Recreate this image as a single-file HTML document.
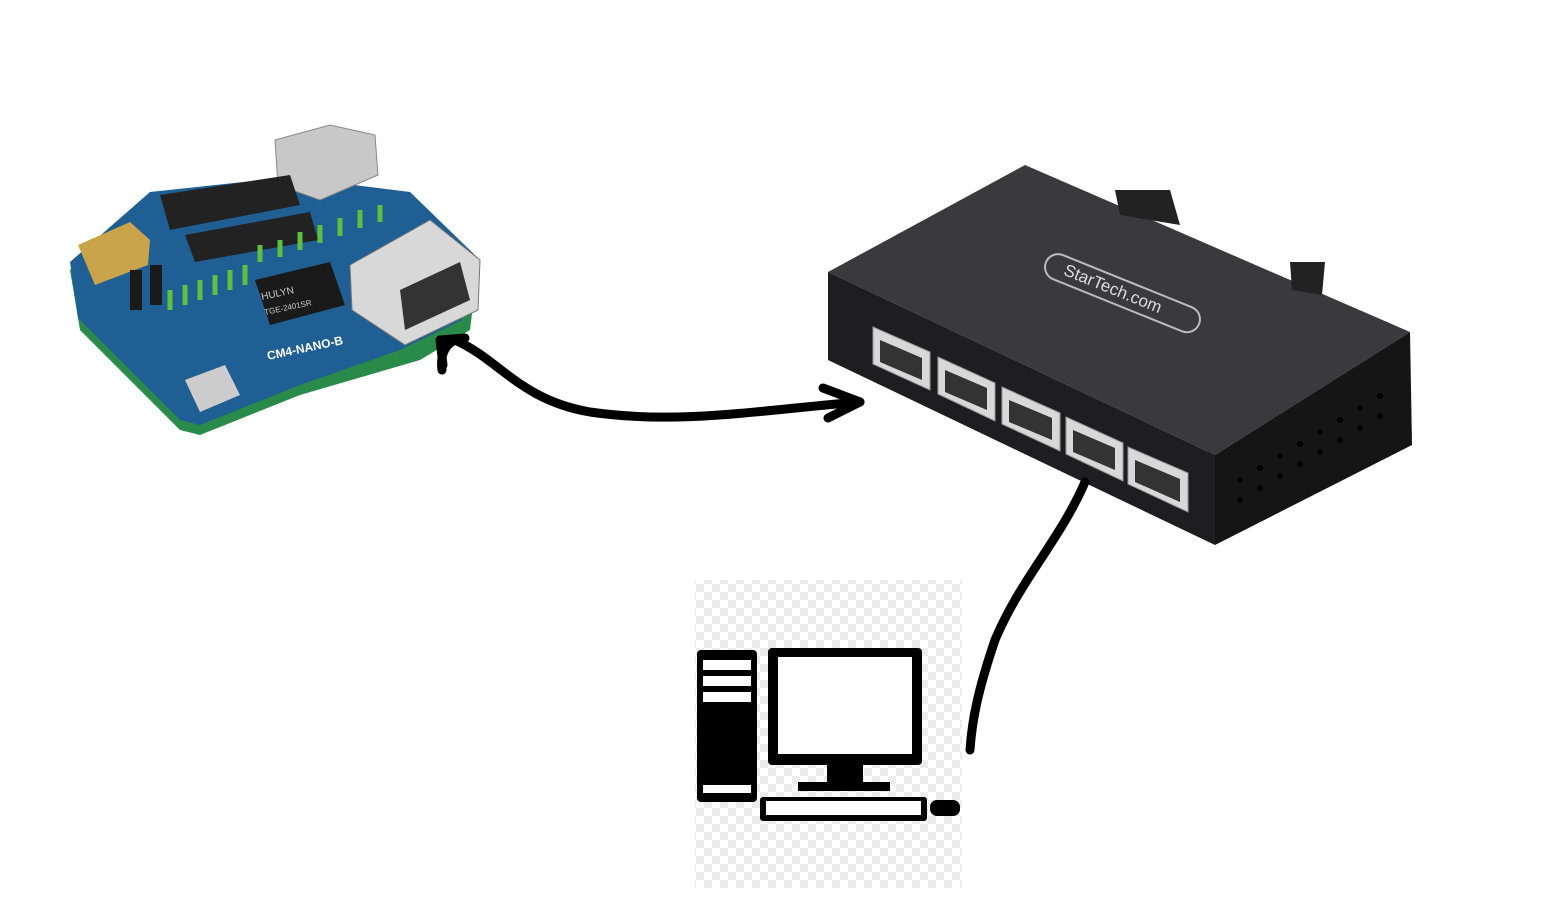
<!DOCTYPE html>
<html><head><meta charset="utf-8"><style>
html,body{margin:0;padding:0;background:#fff;}
svg{display:block}
</style></head><body>
<svg width="1548" height="898" viewBox="0 0 1548 898" xmlns="http://www.w3.org/2000/svg">
<defs>
<pattern id="chk" width="16" height="16" patternUnits="userSpaceOnUse">
<rect width="16" height="16" fill="#fff"/><rect width="8" height="8" fill="#ececec"/><rect x="8" y="8" width="8" height="8" fill="#ececec"/>
</pattern>
</defs>
<rect width="1548" height="898" fill="#fff"/>

<!-- PCB board -->
<polygon points="70,270 150,200 290,185 410,200 478,265 470,330 420,360 300,395 200,435 180,430 80,330" fill="#2a8a4a"/>
<polygon points="70,262 150,192 290,177 410,192 478,258 462,320 400,350 300,385 200,425 180,420 78,318" fill="#1f5f93"/>
<!-- connectors -->
<polygon points="275,140 330,125 375,135 378,175 320,200 278,185" fill="#c8c8c8" stroke="#888"/>
<polygon points="160,195 290,175 300,205 170,230" fill="#222"/>
<polygon points="185,235 310,212 318,240 195,262" fill="#222"/>
<polygon points="78,245 130,222 150,240 148,265 95,285" fill="#c9a44a"/>
<polygon points="350,265 430,220 480,260 478,310 405,345 352,310" fill="#d8d8d8" stroke="#777"/>
<polygon points="400,290 460,262 470,300 405,330" fill="#333"/>
<polygon points="255,280 330,262 345,305 270,325" fill="#1a1a1a"/>
<text x="262" y="300" font-family="Liberation Sans,sans-serif" font-size="10" fill="#ccc" transform="rotate(-12 262 300)">HULYN</text>
<text x="265" y="315" font-family="Liberation Sans,sans-serif" font-size="8" fill="#ccc" transform="rotate(-12 265 315)">TGE-2401SR</text>
<text x="268" y="360" font-family="Liberation Sans,sans-serif" font-size="12" font-weight="bold" fill="#fff" transform="rotate(-12 268 360)">CM4-NANO-B</text>
<polygon points="185,380 225,365 240,395 200,412" fill="#ccc"/>
<g fill="#1a1a1a">
<rect x="130" y="270" width="12" height="40"/>
<rect x="150" y="265" width="12" height="40"/>
</g>
<g stroke="#5fbf3f" stroke-width="5">
<line x1="170" y1="290" x2="170" y2="310"/><line x1="185" y1="285" x2="185" y2="305"/><line x1="200" y1="280" x2="200" y2="300"/><line x1="215" y1="275" x2="215" y2="295"/><line x1="230" y1="270" x2="230" y2="290"/><line x1="245" y1="265" x2="245" y2="285"/>
<line x1="260" y1="245" x2="260" y2="262"/><line x1="280" y1="240" x2="280" y2="257"/><line x1="300" y1="232" x2="300" y2="250"/><line x1="320" y1="225" x2="320" y2="243"/><line x1="340" y1="218" x2="340" y2="236"/><line x1="360" y1="210" x2="360" y2="228"/><line x1="380" y1="205" x2="380" y2="222"/>
</g>

<!-- Switch -->
<polygon points="828,272 1025,165 1410,332 1215,455" fill="#3a3a3c"/>
<polygon points="828,272 1215,455 1215,545 828,360" fill="#1e1e20"/>
<polygon points="1215,455 1410,332 1412,445 1215,545" fill="#151515"/>
<polygon points="1115,190 1170,190 1180,225 1120,215" fill="#222"/>
<polygon points="1290,262 1325,262 1322,295 1292,290" fill="#222"/>
<rect x="1040" y="280" width="165" height="26" rx="13" fill="none" stroke="#bbb" stroke-width="2" transform="rotate(22 1122 293)"/>
<text x="1060" y="298" font-family="Liberation Sans,sans-serif" font-size="17" fill="#ddd" transform="rotate(22 1122 293)">StarTech.com</text>
<g fill="#d8d8d8" stroke="#999">
<polygon points="873,327 930,352 930,390 873,364"/>
<polygon points="938,357 995,383 995,421 938,394"/>
<polygon points="1002,387 1060,413 1060,451 1002,424"/>
<polygon points="1066,417 1123,443 1123,481 1066,454"/>
<polygon points="1128,447 1188,473 1188,512 1128,484"/>
</g>
<g fill="#333">
<polygon points="880,340 922,358 922,380 880,362"/>
<polygon points="945,370 987,388 987,410 945,392"/>
<polygon points="1009,400 1052,418 1052,440 1009,422"/>
<polygon points="1073,430 1115,448 1115,470 1073,452"/>
<polygon points="1135,460 1180,479 1180,502 1135,482"/>
</g>
<g fill="#000">
<circle cx="1240" cy="480" r="3"/><circle cx="1260" cy="468" r="3"/><circle cx="1280" cy="456" r="3"/><circle cx="1300" cy="444" r="3"/><circle cx="1320" cy="432" r="3"/><circle cx="1340" cy="420" r="3"/><circle cx="1360" cy="408" r="3"/><circle cx="1380" cy="396" r="3"/>
<circle cx="1240" cy="500" r="3"/><circle cx="1260" cy="488" r="3"/><circle cx="1280" cy="476" r="3"/><circle cx="1300" cy="464" r="3"/><circle cx="1320" cy="452" r="3"/><circle cx="1340" cy="440" r="3"/><circle cx="1360" cy="428" r="3"/><circle cx="1380" cy="416" r="3"/>
</g>

<!-- Arrows -->
<g fill="none" stroke="#000" stroke-width="9" stroke-linecap="round" stroke-linejoin="round">
<path d="M442,370 C440,355 445,345 455,340 C500,360 520,400 590,412 C680,425 760,410 860,402"/>
<path d="M440,340 L465,338 M440,340 L443,365"/>
<path d="M860,402 L823,388 M860,402 L828,418"/>
<path d="M1085,482 C1060,540 1020,580 995,640 C978,690 972,720 970,750"/>
</g>

<!-- Computer icon -->
<rect x="695" y="580" width="267" height="308" fill="url(#chk)"/>
<rect x="697" y="650" width="60" height="152" rx="4" fill="#000"/>
<rect x="703" y="660" width="48" height="10" fill="#fff"/>
<rect x="703" y="676" width="48" height="10" fill="#fff"/>
<rect x="703" y="692" width="48" height="10" fill="#fff"/>
<rect x="703" y="785" width="48" height="8" fill="#fff"/>
<rect x="768" y="648" width="154" height="117" rx="4" fill="#000"/>
<rect x="778" y="657" width="134" height="97" fill="#fff"/>
<rect x="827" y="765" width="36" height="20" fill="#000"/>
<rect x="798" y="782" width="92" height="9" fill="#000"/>
<rect x="760" y="797" width="167" height="24" rx="3" fill="#000"/>
<rect x="766" y="801" width="155" height="14" fill="#fff"/>
<rect x="930" y="800" width="30" height="16" rx="7" fill="#000"/>
</svg>
</body></html>
